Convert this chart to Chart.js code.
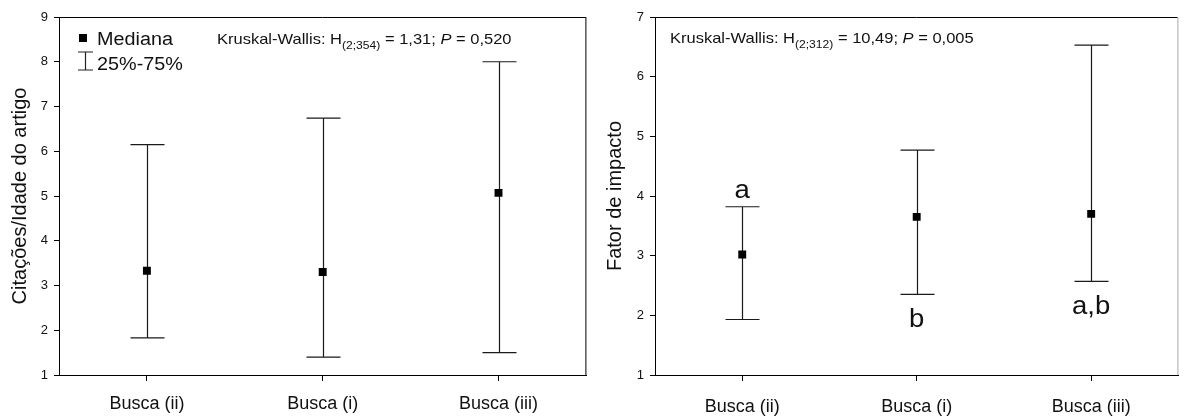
<!DOCTYPE html>
<html><head><meta charset="utf-8">
<script src="https://cdn.jsdelivr.net/npm/chart.js@4"></script>
<style>
html,body{margin:0;padding:0;background:#fff;}
#wrap{position:relative;width:1184px;height:416px;overflow:hidden;background:#fff;}
canvas{position:absolute;top:0;}
</style></head><body>
<div id="wrap">
<canvas id="c1" width="592" height="416" style="left:0"></canvas>
<canvas id="c2" width="592" height="416" style="left:592px"></canvas>
</div>
<script>
// ---- data ----
const categories = ['Busca (ii)', 'Busca (i)', 'Busca (iii)'];
const citMedian = [3.33, 3.30, 5.07];
const citQ1 = [1.83, 1.40, 1.50];
const citQ3 = [6.15, 6.74, 8.00];
const fiMedian = [3.02, 3.65, 3.70];
const fiQ1 = [1.93, 2.35, 2.57];
const fiQ3 = [3.82, 4.77, 6.53];
const fiLetters = ['a', 'b', 'a,b'];
const fiLetterSide = ['above', 'below', 'below'];
const citYRange = [1, 9];
const fiYRange = [1, 7];
const citTitle = 'Citações/Idade do artigo';
const fiTitle = 'Fator de impacto';
const legendLabels = ['Mediana', '25%-75%'];

const FONT = '"Liberation Sans", Arial, Helvetica, sans-serif';
const STRETCH = 1.1;
const INK = '#111';

function sText(ctx, str, x, y, size, opts) {
  opts = opts || {};
  ctx.save();
  ctx.font = (opts.italic ? 'italic ' : '') + size + 'px ' + FONT;
  ctx.fillStyle = INK;
  ctx.textBaseline = opts.baseline || 'alphabetic';
  const w = ctx.measureText(str).width * STRETCH;
  let x0 = x;
  if (opts.align === 'center') x0 = x - w / 2;
  ctx.translate(x0, y);
  ctx.scale(STRETCH, 1);
  ctx.textAlign = 'left';
  ctx.fillText(str, 0, 0);
  ctx.restore();
  return w;
}

function drawKW(ctx, x, y, sub, hval, pval) {
  let cx = x;
  cx += sText(ctx, 'Kruskal-Wallis: H', cx, y, 15);
  cx += sText(ctx, sub, cx, y + 5, 11);
  cx += sText(ctx, ' = ' + hval + '; ', cx, y, 15);
  cx += sText(ctx, 'P', cx, y, 15, {italic: true});
  cx += sText(ctx, ' = ' + pval, cx, y, 15);
}

const errorBars = {
  id: 'errorBars',
  beforeDatasetsDraw(chart, args, o) {
    const {ctx, scales: {x, y}, chartArea: a} = chart;
    ctx.save();
    ctx.strokeStyle = '#000';
    ctx.lineWidth = 1;
    ctx.beginPath();
    ctx.moveTo(a.left, a.top + 0.5);
    ctx.lineTo(a.right - 0.5, a.top + 0.5);
    ctx.stroke();
    ctx.strokeStyle = o.rightColor;
    ctx.beginPath();
    ctx.moveTo(a.right - 0.5, a.top);
    ctx.lineTo(a.right - 0.5, a.bottom);
    ctx.stroke();
    ctx.strokeStyle = '#1a1a1a';
    ctx.lineWidth = 1.2;
    for (let i = 0; i < o.lo.length; i++) {
      const px = Math.round(x.getPixelForValue(i)) + 0.5;
      const pl = y.getPixelForValue(o.lo[i]);
      const ph = y.getPixelForValue(o.hi[i]);
      ctx.beginPath();
      ctx.moveTo(px, pl); ctx.lineTo(px, ph);
      ctx.moveTo(px - o.cap, pl); ctx.lineTo(px + o.cap, pl);
      ctx.moveTo(px - o.cap, ph); ctx.lineTo(px + o.cap, ph);
      ctx.stroke();
    }
    ctx.restore();
  },
  afterDatasetsDraw(chart, args, o) {
    const {ctx, scales: {x, y}} = chart;
    if (o.letters) {
      for (let i = 0; i < o.letters.length; i++) {
        const px = x.getPixelForValue(i);
        if (o.side[i] === 'above') {
          sText(ctx, o.letters[i], px, y.getPixelForValue(o.hi[i]) - 9, 25, {align: 'center'});
        } else {
          sText(ctx, o.letters[i], px, y.getPixelForValue(o.lo[i]) + 33, 25, {align: 'center'});
        }
      }
    }
    if (o.legend) {
      ctx.save();
      ctx.fillStyle = '#000';
      ctx.fillRect(79, 34, 8, 8);
      ctx.strokeStyle = '#222';
      ctx.lineWidth = 1.2;
      ctx.beginPath();
      ctx.moveTo(85.5, 52); ctx.lineTo(85.5, 70);
      ctx.moveTo(78, 52); ctx.lineTo(93, 52);
      ctx.moveTo(78, 70); ctx.lineTo(93, 70);
      ctx.stroke();
      ctx.restore();
      sText(ctx, legendLabels[0], 97, 45, 18);
      sText(ctx, legendLabels[1], 97, 69.5, 18);
    }
    if (o.kw) drawKW(ctx, o.kw.x, o.kw.y, o.kw.sub, o.kw.h, o.kw.p);
  }
};

function makeChart(id, medians, lo, hi, yr, title, plug, yWidth, padRight, titlePad, xPad) {
  return new Chart(document.getElementById(id), {
    type: 'line',
    data: {
      labels: categories,
      datasets: [{
        data: medians,
        showLine: false,
        pointStyle: 'rect',
        pointRadius: 5.6,
        pointHoverRadius: 5.6,
        backgroundColor: '#000',
        borderColor: '#000',
        borderWidth: 0
      }]
    },
    options: {
      responsive: false,
      animation: false,
      devicePixelRatio: 1,
      layout: {padding: {top: 17, right: padRight, left: 0, bottom: 0}},
      plugins: {
        legend: {display: false},
        tooltip: {enabled: false},
        errorBars: Object.assign({lo: lo, hi: hi, cap: 17}, plug)
      },
      scales: {
        x: {
          type: 'category',
          offset: true,
          grid: {display: true, drawOnChartArea: false, drawTicks: true, tickLength: 6, color: '#000', offset: false},
          border: {display: true, color: '#000', width: 1},
          ticks: {color: INK, font: {family: FONT, size: 18}, padding: xPad, maxRotation: 0, autoSkip: false},
          afterFit(s) { s.height = 41; }
        },
        y: {
          min: yr[0], max: yr[1],
          grid: {display: true, drawOnChartArea: false, drawTicks: true, tickLength: 5, color: '#000'},
          border: {display: true, color: '#000', width: 1},
          ticks: {stepSize: 1, color: INK, font: {family: FONT, size: 13}, padding: 6},
          title: {display: true, text: title, color: INK, font: {family: FONT, size: 20}, padding: {top: titlePad, bottom: 0}},
          afterFit(s) { s.width = yWidth; }
        }
      }
    },
    plugins: [errorBars]
  });
}

makeChart('c1', citMedian, citQ1, citQ3, citYRange, citTitle,
  {rightColor: '#000', legend: true, kw: {x: 217, y: 44, sub: '(2;354)', h: '1,31', p: '0,520'}},
  59, 4, 8, 12);
makeChart('c2', fiMedian, fiQ1, fiQ3, fiYRange, fiTitle,
  {rightColor: '#aaa', letters: fiLetters, side: fiLetterSide, kw: {x: 78, y: 43, sub: '(2;312)', h: '10,49', p: '0,005'}},
  63, 1, 11, 15);
</script>
</body></html>
